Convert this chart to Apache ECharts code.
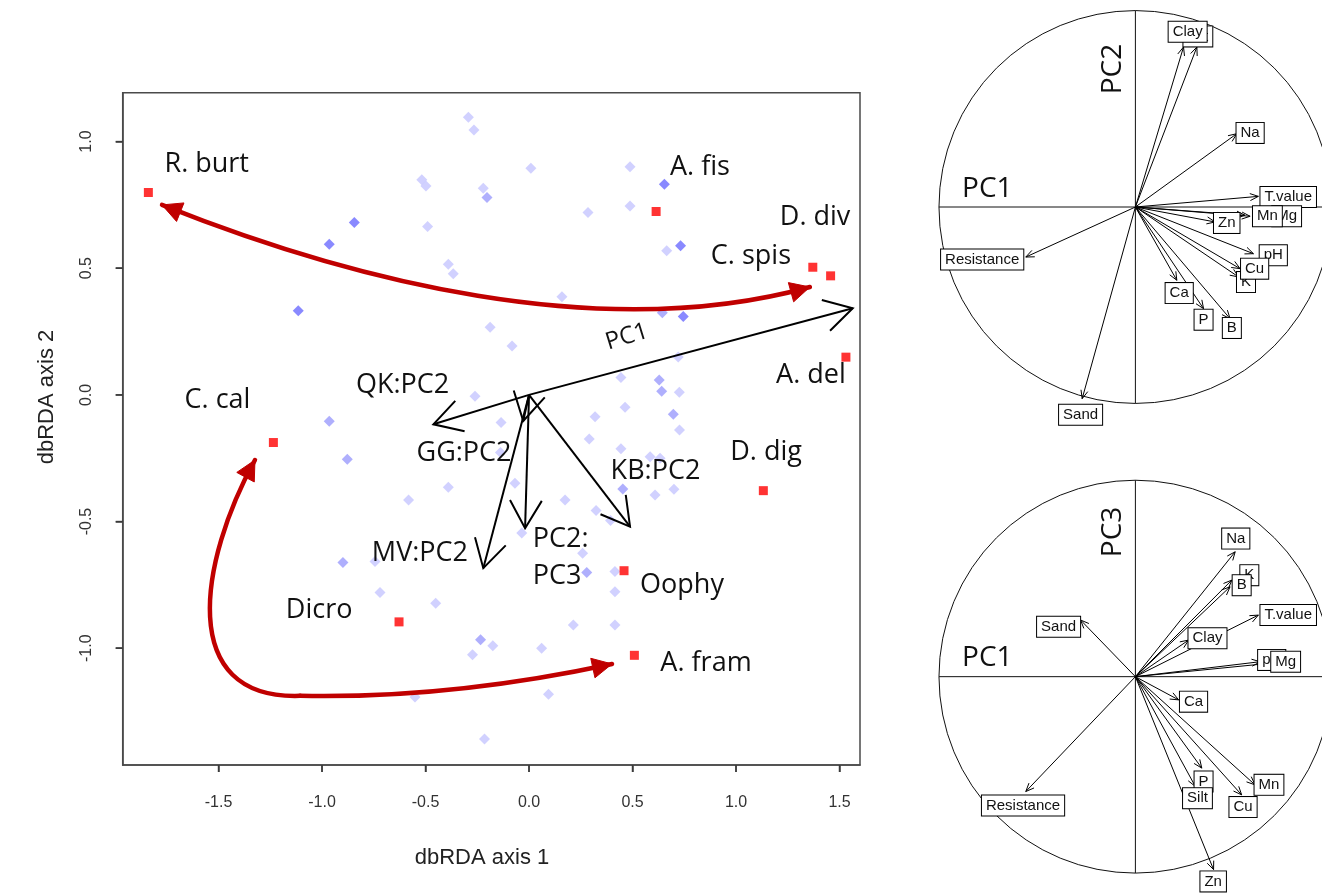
<!DOCTYPE html>
<html><head><meta charset="utf-8">
<script src="https://cdn.jsdelivr.net/npm/echarts@6/dist/echarts.min.js"></script>
<style>html,body{margin:0;padding:0;background:#fff}#c{width:1322px;height:893px}</style>
</head><body><div id="c"></div>
<script>
// ---------- tick labels ----------
const xTicks = [-1.5, -1.0, -0.5, 0.0, 0.5, 1.0, 1.5];
const yTicks = [-1.0, -0.5, 0.0, 0.5, 1.0];

// ---------- site scores (dbRDA axis 1, axis 2) ----------
const sitesLight = [
  [-0.293,1.096],[-0.266,1.046],[-0.518,0.849],[-0.498,0.825],[-0.490,0.665],[-0.390,0.516],
  [-0.366,0.478],[-0.221,0.816],[0.009,0.895],[0.488,0.901],[0.488,0.746],[0.285,0.720],
  [0.665,0.569],[0.159,0.387],[-0.188,0.267],[-0.082,0.193],[0.721,0.150],[0.444,0.069],
  [0.726,0.010],[-0.261,-0.005],[0.464,-0.049],[0.319,-0.086],[-0.135,-0.109],[0.727,-0.139],
  [0.291,-0.174],[0.444,-0.213],[0.585,-0.244],[0.633,-0.250],[-0.138,-0.227],[-0.068,-0.349],
  [-0.390,-0.365],[-0.582,-0.415],[0.609,-0.395],[0.700,-0.372],[0.174,-0.415],[0.324,-0.456],
  [0.394,-0.496],[-0.035,-0.545],[0.259,-0.625],[0.415,-0.697],[0.415,-0.777],[0.214,-0.908],
  [0.415,-0.908],[-0.720,-0.780],[-0.451,-0.822],[-0.175,-0.990],[-0.273,-1.026],[0.061,-1.000],
  [-0.551,-1.193],[0.094,-1.182],[-0.215,-1.358],[-0.744,-0.658]
];
const sitesMid = [
  [-0.203,0.779],[0.644,0.324],[0.629,0.059],[0.641,0.014],[0.697,-0.076],[0.453,-0.371],
  [0.279,-0.701],[-0.234,-0.967],[-0.965,-0.104],[-0.878,-0.254],[-0.899,-0.662]
];
const sitesDark = [
  [-0.844,0.681],[-0.965,0.595],[-1.115,0.332],[0.654,0.832],[0.732,0.589],[0.745,0.310]
];

// ---------- species ----------
const speciesNames = ['R. burt','A. fis','C. spis','D. div','A. del','C. cal','D. dig','Oophy','Dicro','A. fram'];
const speciesXY = [[-1.839,0.799],[0.614,0.724],[1.371,0.504],[1.457,0.470],[1.531,0.149],
  [-1.235,-0.188],[1.132,-0.378],[0.459,-0.694],[-0.628,-0.896],[0.509,-1.028]];
const speciesLabelXY = [[-1.557,0.912],[0.826,0.900],[1.072,0.549],[1.382,0.703],[1.362,0.079],
  [-1.505,-0.020],[1.145,-0.225],[0.739,-0.750],[-1.014,-0.849],[0.855,-1.058]];

// ---------- fitted vectors ----------
const envNames = ['PC1','QK:PC2','GG:PC2','MV:PC2','PC2:\nPC3','KB:PC2'];
const envXY = [[1.564,0.342],[-0.462,-0.116],[-0.028,-0.103],[-0.221,-0.684],[-0.019,-0.526],[0.488,-0.520]];
const envLabelXY = [[0.473,0.229],[-0.611,0.037],[-0.314,-0.229],[-0.527,-0.624],[0.018,-0.643],[0.611,-0.303]];

// ---------- red trend arrows (cubic Bezier control points, data units) ----------
const trendUpper = [[-1.773,0.750],[-0.865,0.454],[0.343,0.197],[1.357,0.426]];
const trendLower1 = [[-1.324,-0.257],[-1.589,-0.651],[-1.710,-1.204],[-1.106,-1.188]];
const trendLower2 = [[-1.106,-1.188],[-0.623,-1.196],[-0.140,-1.157],[0.401,-1.062]];

// ---------- PCA loadings: PC1 vs PC2 ----------
const pc12Names = ['Silt','Clay','Na','T.value','Mg','Mn','Zn','pH','K','Cu','Ca','P','B','Resistance','Sand'];
const pc12XY = [[0.313,0.812],[0.245,0.812],[0.516,0.372],[0.626,0.054],[0.584,-0.047],[0.558,-0.042],
  [0.406,-0.076],[0.601,-0.237],[0.525,-0.355],[0.533,-0.313],[0.211,-0.372],[0.347,-0.516],
  [0.482,-0.567],[-0.558,-0.254],[-0.271,-0.973]];
const pc12LabelXY = [[0.318,0.866],[0.266,0.890],[0.584,0.376],[0.778,0.051],[0.770,-0.047],[0.672,-0.047],
  [0.465,-0.081],[0.702,-0.245],[0.563,-0.381],[0.607,-0.313],[0.223,-0.437],[0.347,-0.572],
  [0.491,-0.614],[-0.780,-0.267],[-0.279,-1.054]];

// ---------- PCA loadings: PC1 vs PC3 ----------
const pc13Names = ['K','B','Na','T.value','Clay','pH','Mg','Sand','Ca','P','Silt','Mn','Cu','Zn','Resistance'];
const pc13XY = [[0.491,0.491],[0.482,0.457],[0.508,0.635],[0.626,0.313],[0.271,0.186],[0.635,0.076],
  [0.685,0.068],[-0.279,0.288],[0.220,-0.118],[0.338,-0.465],[0.305,-0.558],[0.609,-0.550],
  [0.541,-0.601],[0.398,-0.981],[-0.558,-0.584]];
const pc13LabelXY = [[0.580,0.516],[0.541,0.465],[0.511,0.702],[0.778,0.313],[0.367,0.195],[0.694,0.085],
  [0.765,0.076],[-0.391,0.254],[0.296,-0.127],[0.347,-0.533],[0.316,-0.618],[0.680,-0.550],
  [0.548,-0.663],[0.396,-1.041],[-0.572,-0.655]];

const panelTitles12 = [['PC1',-0.754,0.091,0],['PC2',-0.112,0.700,90]];
const panelTitles13 = [['PC1',-0.754,0.096,0],['PC3',-0.112,0.736,90]];

// =====================================================================
const chart = echarts.init(document.getElementById('c'));
const SANS = '"Open Sans", "DejaVu Sans", sans-serif';
const ARIAL = '"Liberation Sans", Arial, sans-serif';
const X_MIN = -1.963, X_MAX = 1.599, Y_MIN = -1.461, Y_MAX = 1.193;

function headPts(tip, from, L, a) {
  const ang = Math.atan2(tip[1] - from[1], tip[0] - from[0]);
  return [
    [tip[0] - L * Math.cos(ang - a), tip[1] - L * Math.sin(ang - a)],
    tip,
    [tip[0] - L * Math.cos(ang + a), tip[1] - L * Math.sin(ang + a)]
  ];
}

function vectorSeries(xi, data, L, a, lw) {
  return {
    type: 'custom', xAxisIndex: xi, yAxisIndex: xi, silent: true, z: 5,
    data: data,
    renderItem: function (params, api) {
      const o = api.coord([0, 0]);
      const t = api.coord([api.value(0), api.value(1)]);
      return {
        type: 'group', children: [
          { type: 'line', shape: { x1: o[0], y1: o[1], x2: t[0], y2: t[1] }, style: { stroke: '#000', lineWidth: lw } },
          { type: 'polyline', shape: { points: headPts(t, o, L, a) }, style: { stroke: '#000', lineWidth: lw, fill: 'none' } }
        ]
      };
    }
  };
}

function textSeries(xi, data, names, styleFn, z) {
  return {
    type: 'custom', xAxisIndex: xi, yAxisIndex: xi, silent: true, z: z || 8,
    data: data,
    renderItem: function (params, api) {
      const p = api.coord([api.value(0), api.value(1)]);
      const s = styleFn(params.dataIndex);
      return {
        type: 'text', x: p[0], y: p[1], rotation: s.rotation || 0,
        style: Object.assign({ text: names[params.dataIndex], align: 'center', verticalAlign: 'middle' }, s.style)
      };
    }
  };
}

function boxLabelSeries(xi, data, names) {
  return textSeries(xi, data, names, function () {
    return { style: { font: '15px ' + ARIAL, fill: '#111', backgroundColor: '#fff', borderColor: '#000',
      borderWidth: 1, padding: [2, 4, 1, 4], lineHeight: 17 } };
  }, 9);
}

function circleSeries(xi) {
  return {
    type: 'custom', xAxisIndex: xi, yAxisIndex: xi, silent: true, z: 3,
    data: [[0, 0]],
    renderItem: function (params, api) {
      const c = api.coord([0, 0]);
      const r = api.size([1, 1])[0];
      return {
        type: 'group', children: [
          { type: 'circle', shape: { cx: c[0], cy: c[1], r: r }, style: { fill: 'none', stroke: '#111', lineWidth: 1 } },
          { type: 'line', shape: { x1: c[0] - r, y1: c[1], x2: c[0] + r, y2: c[1] }, style: { stroke: '#111', lineWidth: 1 } },
          { type: 'line', shape: { x1: c[0], y1: c[1] - r, x2: c[0], y2: c[1] + r }, style: { stroke: '#111', lineWidth: 1 } }
        ]
      };
    }
  };
}

function panelTitleSeries(xi, titles) {
  return textSeries(xi, titles.map(t => [t[1], t[2]]), titles.map(t => t[0]), function (i) {
    return { rotation: titles[i][3] * Math.PI / 180, style: { font: '28px ' + SANS, fill: '#111' } };
  }, 9);
}

function bezierSeries(segments, heads) {
  return {
    type: 'custom', xAxisIndex: 0, yAxisIndex: 0, silent: true, z: 6,
    data: segments.map(s => s.flat()),
    renderItem: function (params, api) {
      const P = [0, 1, 2, 3].map(k => api.coord([api.value(2 * k), api.value(2 * k + 1)]));
      const h = heads[params.dataIndex];
      const children = [{
        type: 'bezierCurve',
        shape: { x1: P[0][0], y1: P[0][1], cpx1: P[1][0], cpy1: P[1][1], cpx2: P[2][0], cpy2: P[2][1], x2: P[3][0], y2: P[3][1] },
        style: { stroke: '#c00000', lineWidth: 4.5, fill: 'none', lineCap: 'round' }
      }];
      const mk = (tip, from) => {
        const pts = headPts(tip, from, 22, 0.47);
        return { type: 'polygon', shape: { points: pts }, style: { fill: '#c00000', stroke: '#c00000', lineWidth: 1 } };
      };
      if (h[0]) children.push(mk(P[0], P[1]));
      if (h[1]) children.push(mk(P[3], P[2]));
      return { type: 'group', children: children };
    }
  };
}

const axisCommonHidden = { show: false };
const frameLine = { show: true, onZero: false, lineStyle: { color: '#4a4a4a', width: 1.5 } };
const titleGraphics = [
  { id: 'tx', type: 'text', x: 482, y: 858, style: { text: 'dbRDA axis 1', font: '22px ' + ARIAL, fill: '#222', align: 'center', verticalAlign: 'middle' } },
  { id: 'ty', type: 'text', x: 47, y: 397, rotation: Math.PI / 2, style: { text: 'dbRDA axis 2', font: '22px ' + ARIAL, fill: '#222', align: 'center', verticalAlign: 'middle' } }
];
const option = {
  backgroundColor: '#fff',
  animation: false,
  grid: [
    { left: 122.7, top: 92.7, width: 737.3, height: 672.3, show: true, borderColor: '#4a4a4a', borderWidth: 1.5, backgroundColor: 'transparent' },
    { left: 929.15, top: 0.15, width: 394, height: 423.55 },
    { left: 929.15, top: 470.15, width: 394, height: 423.55 }
  ],
  xAxis: [
    { type: 'value', gridIndex: 0, position: 'bottom', min: X_MIN, max: X_MAX, axisLine: frameLine, splitLine: { show: false },
      axisTick: { show: true, inside: false, customValues: xTicks, length: 7, lineStyle: { color: '#4a4a4a', width: 1.5 } },
      axisLabel: { customValues: xTicks, formatter: v => v.toFixed(1), fontSize: 16, color: '#333', margin: 30, fontFamily: ARIAL } },
    Object.assign({ type: 'value', gridIndex: 1, min: -1.05, max: 0.95 }, axisCommonHidden),
    Object.assign({ type: 'value', gridIndex: 2, min: -1.05, max: 0.95 }, axisCommonHidden)
  ],
  yAxis: [
    { type: 'value', gridIndex: 0, position: 'left', min: Y_MIN, max: Y_MAX, axisLine: frameLine, splitLine: { show: false },
      axisTick: { show: true, inside: false, customValues: yTicks, length: 7, lineStyle: { color: '#4a4a4a', width: 1.5 } },
      axisLabel: { customValues: yTicks, formatter: v => v.toFixed(1), fontSize: 16, color: '#333', margin: 28, rotate: 90, fontFamily: ARIAL } },
    Object.assign({ type: 'value', gridIndex: 1, min: -1.1, max: 1.05 }, axisCommonHidden),
    Object.assign({ type: 'value', gridIndex: 2, min: -1.1, max: 1.05 }, axisCommonHidden)
  ],
  graphic: titleGraphics,
  series: [
    { type: 'scatter', xAxisIndex: 0, yAxisIndex: 0, data: sitesLight, symbol: 'diamond', symbolSize: 11, itemStyle: { color: '#c6c6ff' }, silent: true, z: 2 },
    { type: 'scatter', xAxisIndex: 0, yAxisIndex: 0, data: sitesMid, symbol: 'diamond', symbolSize: 11, itemStyle: { color: '#9b9bfd' }, silent: true, z: 2 },
    { type: 'scatter', xAxisIndex: 0, yAxisIndex: 0, data: sitesDark, symbol: 'diamond', symbolSize: 11, itemStyle: { color: '#6b6bff' }, silent: true, z: 2 },
    vectorSeries(0, envXY, 32, 0.52, 2),
    bezierSeries([trendUpper, trendLower1, trendLower2], [[true, true], [true, false], [false, true]]),
    { type: 'scatter', xAxisIndex: 0, yAxisIndex: 0, data: speciesXY, symbol: 'rect', symbolSize: 9, itemStyle: { color: '#ff0000' }, silent: true, z: 7 },
    textSeries(0, speciesLabelXY, speciesNames, function () {
      return { style: { font: '27px ' + SANS, fill: '#111' } };
    }),
    textSeries(0, envLabelXY, envNames, function (i) {
      if (i === 0) return { rotation: 17 * Math.PI / 180, style: { font: '24px ' + SANS, fill: '#111' } };
      if (i === 4) return { style: { font: '27px ' + SANS, fill: '#111', align: 'left', lineHeight: 37 } };
      return { style: { font: '27px ' + SANS, fill: '#111' } };
    }),
    circleSeries(1),
    vectorSeries(1, pc12XY, 9, 0.4, 1),
    boxLabelSeries(1, pc12LabelXY, pc12Names),
    panelTitleSeries(1, panelTitles12),
    circleSeries(2),
    vectorSeries(2, pc13XY, 9, 0.4, 1),
    boxLabelSeries(2, pc13LabelXY, pc13Names),
    panelTitleSeries(2, panelTitles13)
  ]
};
chart.setOption(option);

// outward tick marks on the frame, positioned through the axis scales
const tickGraphics = [];
xTicks.forEach(function (v, i) {
  const p = chart.convertToPixel({ gridIndex: 0 }, [v, Y_MIN]);
  tickGraphics.push({ id: 'xt' + i, type: 'line', z: 100, shape: { x1: p[0], y1: p[1], x2: p[0], y2: p[1] + 7 },
    style: { stroke: '#3a3a3a', lineWidth: 1.5 } });
});
yTicks.forEach(function (v, i) {
  const p = chart.convertToPixel({ gridIndex: 0 }, [X_MIN, v]);
  tickGraphics.push({ id: 'yt' + i, type: 'line', z: 100, shape: { x1: p[0], y1: p[1], x2: p[0] - 7, y2: p[1] },
    style: { stroke: '#3a3a3a', lineWidth: 1.5 } });
});
chart.setOption({ graphic: titleGraphics.concat(tickGraphics) });
</script>
</body></html>
